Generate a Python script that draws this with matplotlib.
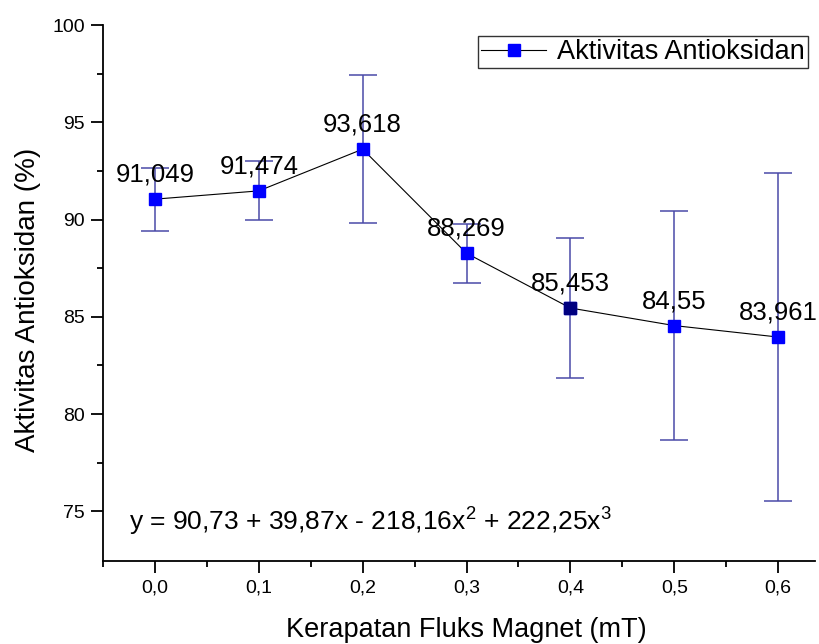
import matplotlib
matplotlib.use("Agg")
import matplotlib.pyplot as plt
from matplotlib.ticker import FixedLocator

plt.rcParams['font.family'] = ['Liberation Sans', 'DejaVu Sans']
plt.rcParams['mathtext.fontset'] = 'custom'
plt.rcParams['mathtext.rm'] = 'Liberation Sans'
plt.rcParams['mathtext.it'] = 'Liberation Sans'

x_vals = [0.0, 0.1, 0.2, 0.3, 0.4, 0.5, 0.6]
y_vals = [91.049, 91.474, 93.618, 88.269, 85.453, 84.55, 83.961]
y_err = [1.62, 1.52, 3.80, 1.52, 3.61, 5.87, 8.44]
point_labels = ["91,049", "91,474", "93,618", "88,269", "85,453", "84,55", "83,961"]
x_ticks = [0.0, 0.1, 0.2, 0.3, 0.4, 0.5, 0.6]
x_tick_labels = ["0,0", "0,1", "0,2", "0,3", "0,4", "0,5", "0,6"]
y_ticks = [75, 80, 85, 90, 95, 100]
series_name = "Aktivitas Antioksidan"
equation = r"y = 90,73 + 39,87x - 218,16x$^{2}$ + 222,25x$^{3}$"

fig = plt.figure(figsize=(8.19, 6.44), dpi=100)
ax = fig.add_axes([103 / 819, 1 - 561 / 644, (815 - 103) / 819, (561 - 25) / 644])

ax.errorbar(x_vals, y_vals, yerr=y_err, fmt='none', ecolor='#4a4aa8',
            elinewidth=1.1, capsize=10, capthick=1.1, zorder=2)
ax.plot(x_vals, y_vals, color='black', lw=0.8, marker='s', markersize=9,
        markerfacecolor='#0000ff', markeredgecolor='#0000ff',
        label=series_name, zorder=3)
ax.plot([x_vals[4]], [y_vals[4]], ls='none', marker='s', markersize=9,
        markerfacecolor='#000080', markeredgecolor='#000080', zorder=4)

for xv, yv, lab in zip(x_vals, y_vals, point_labels):
    ax.annotate(lab, (xv, yv), xytext=(0, 12.5), textcoords='offset points',
                ha='center', va='baseline', fontsize=18.5, color='black', zorder=5)

ax.set_xlim(-0.05, 0.6355)
ax.set_ylim(72.45, 100)
ax.xaxis.set_major_locator(FixedLocator(x_ticks))
ax.set_xticklabels(x_tick_labels)
ax.xaxis.set_minor_locator(FixedLocator([-0.05, 0.05, 0.15, 0.25, 0.35, 0.45, 0.55]))
ax.yaxis.set_major_locator(FixedLocator(y_ticks))
ax.yaxis.set_minor_locator(FixedLocator([77.5, 82.5, 87.5, 92.5, 97.5]))

ax.spines['top'].set_visible(False)
ax.spines['right'].set_visible(False)
for s in ['left', 'bottom']:
    ax.spines[s].set_linewidth(1.3)

ax.tick_params(which='major', direction='out', length=8.5, width=1.3, labelsize=14, pad=4.5)
ax.tick_params(which='minor', direction='out', length=4.5, width=1.3)

ax.set_xlabel("Kerapatan Fluks Magnet (mT)", fontsize=19.5)
ax.xaxis.label.set_va('baseline')
ax.xaxis.set_label_coords(0.51, -0.1418)
ax.set_ylabel("Aktivitas Antioksidan (%)", fontsize=20)
ax.yaxis.set_label_coords(-0.087, 0.487)

ax.text(0.037, 0.0565, equation, transform=ax.transAxes, fontsize=19,
        ha='left', va='baseline')

leg = ax.legend(loc='upper right', bbox_to_anchor=(0.99, 0.9795), fontsize=19.5,
                frameon=True, fancybox=False, edgecolor='black', handlelength=2.4,
                borderpad=0.12, handletextpad=0.4, borderaxespad=0.0)
leg.get_frame().set_linewidth(1.0)

fig.savefig("out.png", dpi=100)
